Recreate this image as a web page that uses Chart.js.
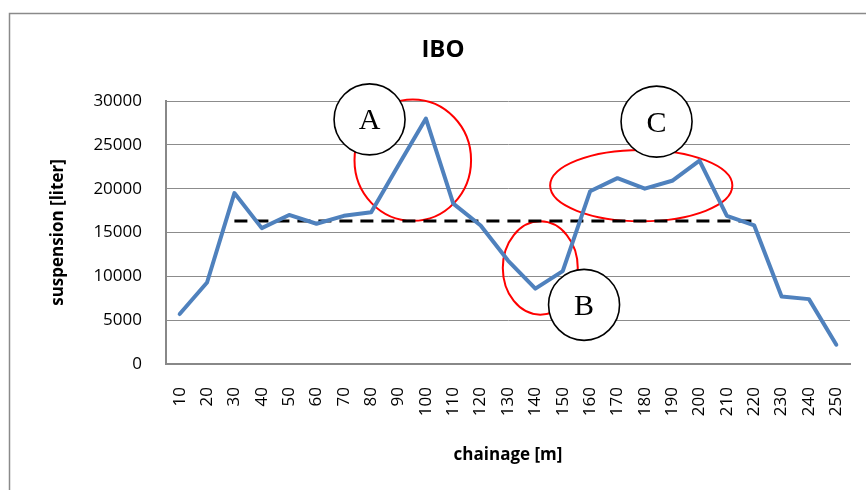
<!DOCTYPE html>
<html>
<head>
<meta charset="utf-8">
<title>IBO</title>
<script src="https://cdn.jsdelivr.net/npm/chart.js@4.4.1/dist/chart.umd.min.js"></script>
<style>
  html, body { margin: 0; padding: 0; background: #ffffff; }
  #wrap { width: 866px; height: 490px; }
</style>
</head>
<body>
<div id="wrap"><canvas id="chart" width="866" height="490"></canvas></div>
<script>
// Chainage stations along the alignment [m]
const chainage = ['10', '20', '30', '40', '50', '60', '70', '80', '90', '100',
  '110', '120', '130', '140', '150', '160', '170', '180', '190', '200',
  '210', '220', '230', '240', '250'];

// Suspension volume measured at each station [liter]
const suspension = [5700, 9300, 19500, 15500, 17000, 16000, 16900, 17300, 22700, 28000,
  18300, 15800, 11800, 8600, 10600, 19700, 21200, 20000, 20900, 23200,
  16900, 15800, 7700, 7400, 2200];

// Reference level over the stretch 30 m - 220 m [liter]
const referenceLevel = [null, null, 16300, 16300, 16300, 16300, 16300, 16300, 16300, 16300,
  16300, 16300, 16300, 16300, 16300, 16300, 16300, 16300, 16300, 16300,
  16300, 16300, null, null, null];

// Value axis ticks [liter]
const yTicks = [0, 5000, 10000, 15000, 20000, 25000, 30000];

// Highlighted zones: centre (chainage, volume) and half extents in the same units
const zoneRings = [
  { chainage: 95.2,  value: 23250, halfChainage: 21.3, halfValue: 6920 },
  { chainage: 141.8, value: 10950, halfChainage: 13.7, halfValue: 5320 },
  { chainage: 178.7, value: 20350, halfChainage: 33.3, halfValue: 4070 }
];

// Zone tags placed next to each ring
const zoneTags = [
  { text: 'A', chainage: 79.4,  value: 27900 },
  { text: 'B', chainage: 157.8, value: 6750 },
  { text: 'C', chainage: 184.3, value: 27650 }
];

Chart.defaults.font.family = "'Open Sans', 'Noto Sans', sans-serif";
Chart.defaults.color = '#000000';

// chainage [m] -> position on the category scale
function stationIndex(ch) {
  const first = Number(chainage[0]);
  const step = Number(chainage[1]) - first;
  return (ch - first) / step;
}

const frame = {
  id: 'frame',
  beforeDraw(chart) {
    const ctx = chart.ctx;
    ctx.save();
    ctx.fillStyle = '#ffffff';
    ctx.fillRect(0, 0, chart.width, chart.height);
    ctx.strokeStyle = '#8a8a8a';
    ctx.lineWidth = 1.5;
    ctx.strokeRect(9.5, 13.5, chart.width + 20, chart.height + 20);
    ctx.restore();
  }
};

const rings = {
  id: 'rings',
  beforeDatasetsDraw(chart) {
    const ctx = chart.ctx;
    const x = chart.scales.x, y = chart.scales.y;
    ctx.save();
    ctx.strokeStyle = '#ff0000';
    ctx.lineWidth = 2;
    zoneRings.forEach(z => {
      const i = stationIndex(z.chainage);
      const cx = x.getPixelForValue(i);
      const cy = y.getPixelForValue(z.value);
      const rx = Math.abs(x.getPixelForValue(i + z.halfChainage / 10) - cx);
      const ry = Math.abs(y.getPixelForValue(z.value + z.halfValue) - cy);
      ctx.beginPath();
      ctx.ellipse(cx, cy, rx, ry, 0, 0, Math.PI * 2);
      ctx.stroke();
    });
    ctx.restore();
  }
};

const tags = {
  id: 'tags',
  afterDatasetsDraw(chart) {
    const ctx = chart.ctx;
    const x = chart.scales.x, y = chart.scales.y;
    const r = 35.5;
    ctx.save();
    zoneTags.forEach(t => {
      const cx = x.getPixelForValue(stationIndex(t.chainage));
      const cy = y.getPixelForValue(t.value);
      ctx.beginPath();
      ctx.arc(cx, cy, r, 0, Math.PI * 2);
      ctx.fillStyle = '#ffffff';
      ctx.fill();
      ctx.strokeStyle = '#000000';
      ctx.lineWidth = 1.6;
      ctx.stroke();
      ctx.fillStyle = '#000000';
      ctx.font = "30px 'Liberation Serif', 'DejaVu Serif', serif";
      ctx.textAlign = 'center';
      ctx.textBaseline = 'alphabetic';
      ctx.fillText(t.text, cx, cy + 10);
    });
    ctx.restore();
  }
};

new Chart(document.getElementById('chart'), {
  type: 'line',
  data: {
    labels: chainage,
    datasets: [
      {
        label: 'suspension',
        data: suspension,
        borderColor: '#4f81bd',
        borderWidth: 4,
        borderJoinStyle: 'round',
        borderCapStyle: 'round',
        pointRadius: 0,
        tension: 0,
        fill: false
      },
      {
        label: 'reference',
        data: referenceLevel,
        borderColor: '#000000',
        borderWidth: 3,
        borderDash: [13, 8],
        pointRadius: 0,
        tension: 0,
        fill: false,
        spanGaps: false
      }
    ]
  },
  options: {
    responsive: false,
    animation: false,
    devicePixelRatio: 1,
    layout: { padding: { left: 36, right: 16, top: 0, bottom: 0 } },
    plugins: {
      legend: { display: false },
      tooltip: { enabled: false },
      title: {
        display: true,
        text: 'IBO',
        font: { size: 24, weight: 'bold' },
        padding: { top: 35.6, bottom: 36.6 }
      }
    },
    scales: {
      x: {
        type: 'category',
        offset: true,
        grid: { display: false, drawTicks: false },
        border: { display: true, color: '#888888', width: 2 },
        ticks: {
          autoSkip: false,
          minRotation: 90,
          maxRotation: 90,
          padding: 23,
          font: { size: 17 }
        },
        title: {
          display: true,
          text: 'chainage [m]',
          font: { size: 17, weight: 'bold' },
          padding: { top: 0, bottom: 24.8 }
        },
        afterFit(scale) {
          scale.height = 126;
          scale.paddingLeft = 0;
          scale.paddingRight = 0;
        }
      },
      y: {
        min: 0,
        max: 30000,
        grid: { color: '#8c8c8c', lineWidth: 1, drawTicks: false },
        border: { display: true, color: '#888888', width: 2 },
        afterBuildTicks(scale) { scale.ticks = yTicks.map(v => ({ value: v })); },
        ticks: {
          padding: 24,
          font: { size: 17 },
          callback: v => String(v)
        },
        title: {
          display: true,
          text: 'suspension [liter]',
          font: { size: 17, weight: 'bold' },
          padding: { top: 11.5, bottom: 0 }
        },
        afterFit(scale) {
          scale.width = 130;
          scale.paddingTop = 0;
          scale.paddingBottom = 0;
        }
      }
    }
  },
  plugins: [frame, rings, tags]
});
</script>
</body>
</html>
